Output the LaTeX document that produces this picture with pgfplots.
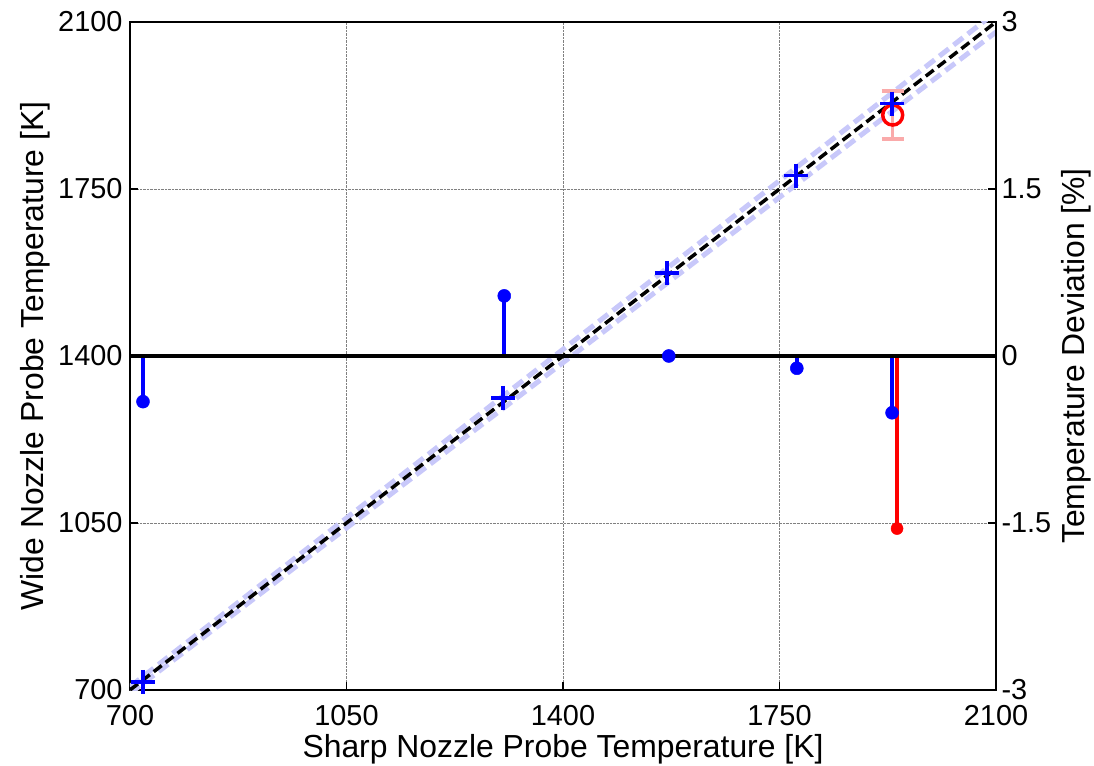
\documentclass[border=0pt]{standalone}
\usepackage{pgfplots}
\pgfplotsset{compat=1.18}
\usepackage{fontspec}
\setmainfont{Liberation Sans}

\definecolor{lightline}{RGB}{200,200,250}
\definecolor{pinkbar}{RGB}{250,170,170}

\pgfplotsset{
  common/.style={
    scale only axis, width=866bp, height=668bp,
    xmin=700, xmax=2100,
    axis line style={line width=2.5bp},
    tick style={black, line width=1.5bp},
    major tick length=8bp, tick align=inside,
    ticklabel style={font=\fontsize{29}{30}\selectfont},
    label style={font=\fontsize{32}{34}\selectfont},
    clip=true,
  }
}

\begin{document}
\begin{tikzpicture}
\begin{axis}[
  common,
  ymin=700, ymax=2100,
  xtick={700,1050,1400,1750,2100},
  xticklabels={700,1050,1400,1750,2100},
  ytick={700,1050,1400,1750,2100},
  yticklabels={700,1050,1400,1750,2100},
  xtick pos=bottom, ytick pos=left,
  xticklabel style={yshift=-12bp},
  yticklabel style={xshift=-4bp},
  grid=major, grid style={densely dotted, gray, line width=0.7bp},
  xlabel={Sharp Nozzle Probe Temperature [K]},
  ylabel={Wide Nozzle Probe Temperature [K]},
  xlabel style={yshift=-2bp},
  ylabel style={yshift=1bp},
]
\coordinate (bl) at (rel axis cs:0,0);
\coordinate (tr) at (rel axis cs:1,1);
% +/- 1 % band
\addplot[lightline, line width=5bp, dash pattern=on 12bp off 6bp] coordinates {(700,693) (2100,2079)};
\addplot[lightline, line width=5bp, dash pattern=on 12bp off 6bp] coordinates {(700,707) (2100,2121)};
% 1:1 line
\addplot[black, line width=3.5bp, dash pattern=on 10bp off 5bp] coordinates {(700,700) (2100,2100)};
% reference point with error bar
\addplot[red, only marks, mark=o, mark size=10bp, line width=3.5bp,
  error bars/.cd, y dir=both, y explicit,
  error bar style={pinkbar, line width=3.5bp},
  error mark options={pinkbar, rotate=90, mark size=11bp, line width=3.5bp}]
  coordinates {(1933,1905) +- (0,50)};
% measured points
\addplot[blue, only marks, mark=+, mark size=12bp, line width=3.5bp] coordinates {
  (721,717) (1303,1312) (1568,1574) (1777,1778) (1932,1929)
};
\end{axis}

\begin{axis}[
  common,
  ymin=-3, ymax=3,
  axis y line*=right, hide x axis,
  ytick={-3,-1.5,0,1.5,3},
  yticklabels={-3,-1.5,0,1.5,3},
  yticklabel style={xshift=2bp},
  ylabel={Temperature Deviation [\%]},
  ylabel style={yshift=-3bp},
]
\addplot[blue, ycomb, line width=3.5bp, mark=*, mark size=6.5bp, mark options={line width=0.5bp}] coordinates {
  (721,-0.41) (1305,0.54) (1571,0.0) (1778,-0.11) (1932,-0.51)
};
\addplot[red, ycomb, line width=3.5bp, mark=*, mark size=6bp, mark options={line width=0.5bp}] coordinates {
  (1940,-1.55)
};
\addplot[black, line width=3.5bp] coordinates {(700,0) (2100,0)};
\end{axis}

\pgfresetboundingbox
\path ([xshift=-130bp,yshift=-76bp]bl) rectangle ([xshift=98bp,yshift=22bp]tr);
\end{tikzpicture}
\end{document}
